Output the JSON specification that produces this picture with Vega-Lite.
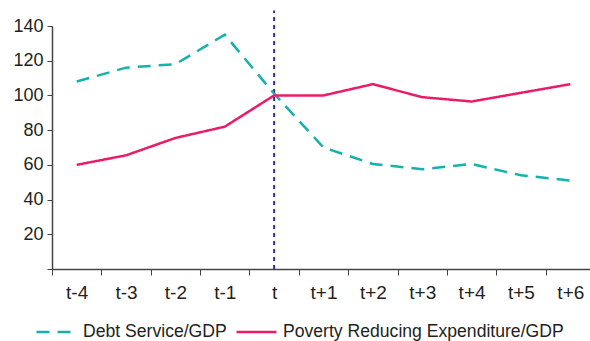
{
  "$schema": "https://vega.github.io/schema/vega-lite/v6.json",
  "autosize": "none",
  "width": 543,
  "height": 243,
  "padding": {"left": 52, "top": 26, "right": 0, "bottom": 72},
  "background": "white",
  "config": {
    "view": {"stroke": null},
    "font": "Liberation Sans",
    "axis": {"grid": false, "domainColor": "#444", "tickColor": "#444", "labelColor": "#231f20", "labelFont": "Liberation Sans", "labelOverlap": false, "domainWidth": 1.5}
  },
  "datasets": {
    "series": [
      {"period": "t-4", "series": "Debt Service/GDP", "value": 108},
      {"period": "t-3", "series": "Debt Service/GDP", "value": 116},
      {"period": "t-2", "series": "Debt Service/GDP", "value": 118},
      {"period": "t-1", "series": "Debt Service/GDP", "value": 135},
      {"period": "t", "series": "Debt Service/GDP", "value": 101},
      {"period": "t+1", "series": "Debt Service/GDP", "value": 70},
      {"period": "t+2", "series": "Debt Service/GDP", "value": 60.5},
      {"period": "t+3", "series": "Debt Service/GDP", "value": 57.5},
      {"period": "t+4", "series": "Debt Service/GDP", "value": 60.5},
      {"period": "t+5", "series": "Debt Service/GDP", "value": 54},
      {"period": "t+6", "series": "Debt Service/GDP", "value": 51},
      {"period": "t-4", "series": "Poverty Reducing Expenditure/GDP", "value": 60},
      {"period": "t-3", "series": "Poverty Reducing Expenditure/GDP", "value": 65.5},
      {"period": "t-2", "series": "Poverty Reducing Expenditure/GDP", "value": 75.5},
      {"period": "t-1", "series": "Poverty Reducing Expenditure/GDP", "value": 82},
      {"period": "t", "series": "Poverty Reducing Expenditure/GDP", "value": 100},
      {"period": "t+1", "series": "Poverty Reducing Expenditure/GDP", "value": 100},
      {"period": "t+2", "series": "Poverty Reducing Expenditure/GDP", "value": 106.5},
      {"period": "t+3", "series": "Poverty Reducing Expenditure/GDP", "value": 99},
      {"period": "t+4", "series": "Poverty Reducing Expenditure/GDP", "value": 96.5},
      {"period": "t+5", "series": "Poverty Reducing Expenditure/GDP", "value": 101.5},
      {"period": "t+6", "series": "Poverty Reducing Expenditure/GDP", "value": 106.5}
    ],
    "marker": [{"period": "t", "lo": 0, "hi": 149}]
  },
  "layer": [
    {
      "data": {"name": "marker"},
      "mark": {"type": "rule", "color": "#2e3192", "strokeWidth": 2, "strokeDash": [4, 4], "clip": false},
      "encoding": {
        "x": {
          "field": "period", "type": "ordinal",
          "sort": ["t-4","t-3","t-2","t-1","t","t+1","t+2","t+3","t+4","t+5","t+6"],
          "axis": {"title": null, "labelAngle": 0, "labelAlign": "center", "labelBaseline": "top", "tickBand": "extent", "labelFontSize": 19, "labelPadding": 8, "tickSize": 6}
        },
        "y": {
          "field": "lo", "type": "quantitative",
          "axis": {"title": null, "values": [0,20,40,60,80,100,120,140], "labelExpr": "datum.value == 0 ? '' : datum.label", "labelFontSize": 18, "labelPadding": 4, "tickSize": 5}
        },
        "y2": {"field": "hi"}
      }
    },
    {
      "data": {"name": "series"},
      "mark": {"type": "line", "strokeWidth": 2.5, "clip": false},
      "encoding": {
        "x": {
          "field": "period", "type": "ordinal",
          "sort": ["t-4","t-3","t-2","t-1","t","t+1","t+2","t+3","t+4","t+5","t+6"],
          "scale": {"paddingInner": 0, "paddingOuter": 0},
          "axis": {"title": null, "labelAngle": 0, "labelAlign": "center", "labelBaseline": "top", "tickBand": "extent", "labelFontSize": 19, "labelPadding": 8, "tickSize": 6}
        },
        "y": {
          "field": "value", "type": "quantitative",
          "scale": {"domain": [0, 140], "nice": false},
          "axis": {"title": null, "values": [0,20,40,60,80,100,120,140], "labelExpr": "datum.value == 0 ? '' : datum.label", "labelFontSize": 18, "labelPadding": 4, "tickSize": 5}
        },
        "color": {
          "field": "series", "type": "nominal",
          "scale": {"domain": ["Debt Service/GDP", "Poverty Reducing Expenditure/GDP"], "range": ["#14b1ad", "#ec1b68"]},
          "legend": {"title": null, "orient": "none", "direction": "horizontal", "legendX": -17, "legendY": 284, "symbolType": "stroke", "symbolSize": 1600, "symbolStrokeWidth": 2.5, "labelFontSize": 17.6, "labelColor": "#231f20", "labelOffset": 5, "columnPadding": 4, "labelLimit": 400}
        },
        "strokeDash": {
          "field": "series", "type": "nominal",
          "scale": {"domain": ["Debt Service/GDP", "Poverty Reducing Expenditure/GDP"], "range": [[13, 8], [1, 0]]},
          "legend": {"title": null, "orient": "none", "direction": "horizontal", "legendX": -17, "legendY": 284, "symbolType": "stroke", "symbolSize": 1600, "symbolStrokeWidth": 2.5, "labelFontSize": 17.6, "labelColor": "#231f20", "labelOffset": 5, "columnPadding": 4, "labelLimit": 400}
        }
      }
    }
  ]
}
